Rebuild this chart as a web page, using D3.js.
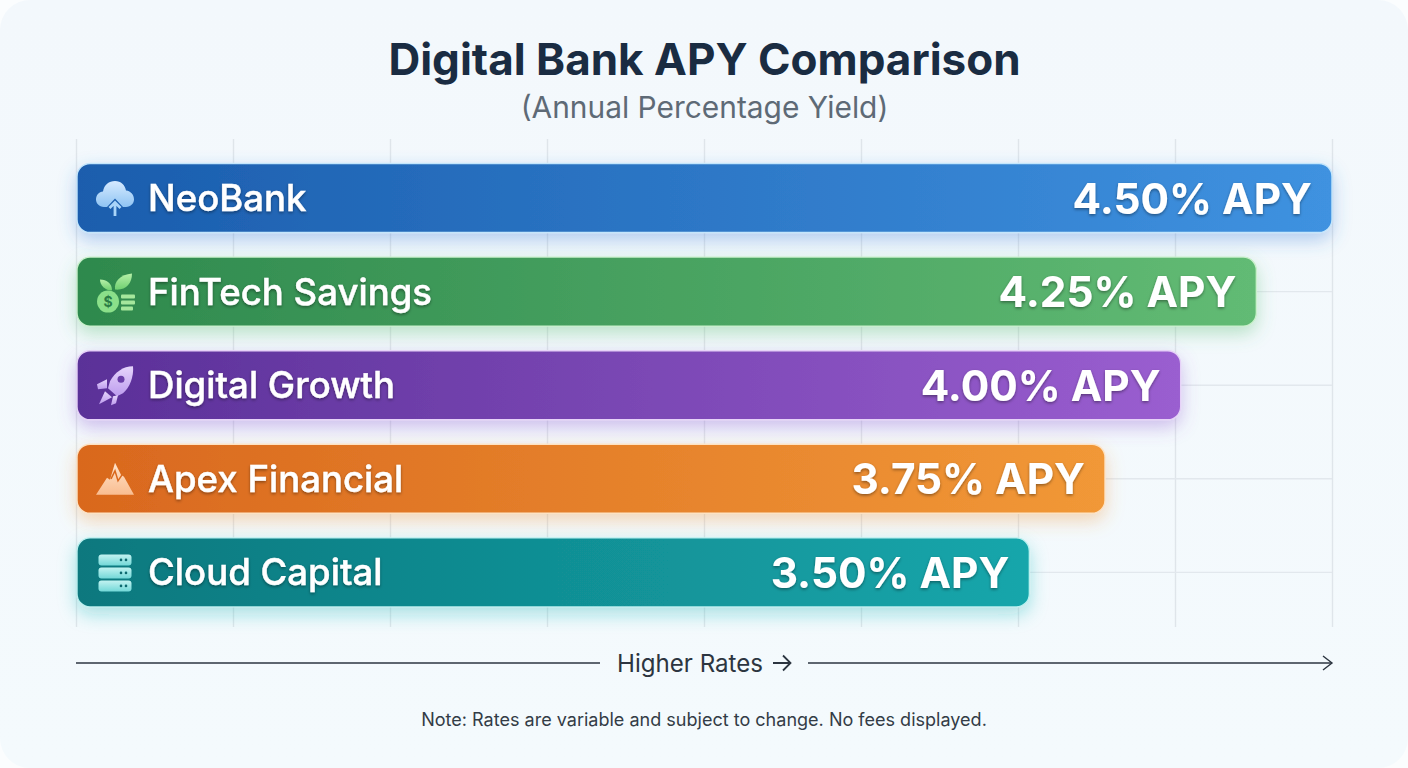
<!DOCTYPE html>
<html><head><meta charset="utf-8">
<script src="https://cdn.jsdelivr.net/npm/d3@7/dist/d3.min.js"></script>
<style>html,body{margin:0;padding:0;background:#fbfdfe;overflow:hidden}svg{display:block}text{font-family:Inter,"Noto Sans",sans-serif}</style>
</head><body><div id="chart"></div>
<script>
const categories=["NeoBank","FinTech Savings","Digital Growth","Apex Financial","Cloud Capital"];
const apyValues=[4.50,4.25,4.00,3.75,3.50];
const startColors=["#1b5dad","#2e894d","#5a3098","#d9681e","#0d787e"];
const endColors=["#3f92e0","#62bb74","#9a5ed0","#f19837","#15a6ab"];
const borderColors=["#c4e6fc","#c8f0cb","#e6d2f8","#fde3c4","#b9f0ef"];
const glowColors=["#3d7fd6","#4fb96a","#8a52cf","#ee963e","#22b5b5"];
const iconColors=[["#d6eaff","#8fc4f3"],["#b6f0a8","#6fd070"],["#e6d5fb","#bd9cee"],["#ffe3cb","#f9bd90"],["#c3f3f1","#73d8d8"]];
const iconNames=["cloud","money","rocket","mountain","server"];
const W=1408,H=768;
const svg=d3.select("#chart").append("svg").attr("width",W).attr("height",H);
const defs=svg.append("defs");
const bgG=defs.append("linearGradient").attr("id","bg").attr("x1",0).attr("y1",0).attr("x2",0).attr("y2",1);
bgG.append("stop").attr("offset",0).attr("stop-color","#f3f8fc");
bgG.append("stop").attr("offset",1).attr("stop-color","#f4fafd");
svg.append("rect").attr("x",0).attr("y",0).attr("width",W).attr("height",H).attr("rx",30).attr("fill","url(#bg)");

const x=d3.scaleLinear().domain([0.35,4.5]).range([76,1332]);
const y=d3.scaleBand().domain(categories).range([163.5,606.9]).paddingInner(0.2628).paddingOuter(0);
const rows=categories.map((c,i)=>({c,v:apyValues[i],i}));

// grid
const [lo,hi]=x.domain();
const gridTicks=d3.range(9).map(i=>lo+i*(hi-lo)/8);
const gx=svg.append("g").attr("transform","translate(0,139)")
  .call(d3.axisBottom(x).tickValues(gridTicks).tickSize(488).tickFormat(""));
gx.select(".domain").remove();
gx.selectAll("line").attr("stroke","#dfe5ea").attr("stroke-width",1.4);
const gy=svg.append("g").attr("transform","translate(76,0)")
  .call(d3.axisRight(y).tickSize(1256).tickFormat(""));
gy.select(".domain").remove();
gy.selectAll("line").attr("stroke","#e2e8ed").attr("stroke-width",1.4);

rows.forEach(d=>{
  const g=defs.append("linearGradient").attr("id","bar"+d.i).attr("gradientUnits","userSpaceOnUse")
    .attr("x1",x.range()[0]).attr("x2",x(d.v)).attr("y1",0).attr("y2",0);
  g.append("stop").attr("offset",0).attr("stop-color",startColors[d.i]);
  g.append("stop").attr("offset",1).attr("stop-color",endColors[d.i]);
  const f=defs.append("filter").attr("id","glow"+d.i).attr("x","-5%").attr("y","-60%").attr("width","110%").attr("height","230%");
  f.append("feDropShadow").attr("dx",0).attr("dy",7).attr("stdDeviation",9).attr("flood-color",glowColors[d.i]).attr("flood-opacity",.36);
  const s=defs.append("linearGradient").attr("id","ico"+d.i).attr("x1",0).attr("y1",0).attr("x2",0).attr("y2",1);
  s.append("stop").attr("offset",0).attr("stop-color",iconColors[d.i][0]);
  s.append("stop").attr("offset",1).attr("stop-color",iconColors[d.i][1]);
});
const ts=defs.append("filter").attr("id","ts").attr("x","-10%").attr("y","-30%").attr("width","120%").attr("height","170%");
ts.append("feDropShadow").attr("dx",0).attr("dy",1.5).attr("stdDeviation",1.4).attr("flood-color","#000").attr("flood-opacity",.4);

const bars=svg.append("g").selectAll("g").data(rows).join("g");
bars.append("rect").attr("x",77).attr("y",d=>y(d.c)).attr("width",d=>x(d.v)-77).attr("height",y.bandwidth())
  .attr("rx",13).attr("fill",d=>`url(#bar${d.i})`).attr("stroke",d=>borderColors[d.i]).attr("stroke-width",1.4)
  .attr("filter",d=>`url(#glow${d.i})`);
bars.append("text").attr("x",148).attr("y",d=>y(d.c)+y.bandwidth()/2+13).attr("font-size",36.6).attr("font-weight",500)
  .attr("fill","#fff").attr("stroke","#fff").attr("stroke-width",.4).attr("filter","url(#ts)").text(d=>d.c);
bars.append("text").attr("x",d=>x(d.v)-20).attr("y",d=>y(d.c)+y.bandwidth()/2+15.5).attr("text-anchor","end")
  .attr("font-size",42.3).attr("font-weight",700).attr("fill","#fff").attr("filter","url(#ts)")
  .text(d=>d3.format(".2f")(d.v)+"% APY");

// icons
const icon={
 cloud(g,f){
  g.append("path").attr("fill",f).attr("d","M-11 9C-16 9-19 5-19 1.500C-19-3-16-6-12-6.500C-11-13-6-17 0-17C6-17 10-13 11-7.500C16-7 19-3 19 1.500C19 5 16 9 11 9L8 9L0 0.500L-8 9Z");
  g.append("path").attr("fill","none").attr("stroke","#a9d4f8").attr("stroke-width",2.8).attr("d","M0 18V4.500M-5.500 10L0 4.500L5.500 10");
 },
 money(g,f){
  g.append("path").attr("fill",f).attr("d","M0 -2C-1 -10 5 -17 17 -18C17 -8 11 -1 0 -2Z");
  g.append("path").attr("fill",f).attr("d","M-3 -1C-10 -1 -15 -6 -15 -12C-8 -12 -3 -8 -3 -1Z");
  g.append("circle").attr("cx",-7).attr("cy",10).attr("r",11).attr("fill","#8be08a");
  g.append("text").attr("x",-7).attr("y",15).attr("text-anchor","middle").attr("font-size",14).attr("font-weight",700).attr("fill","#2a7d45").text("$");
  [3,9,15].forEach(t=>g.append("rect").attr("x",6).attr("y",t).attr("width",t==15?12:14).attr("height",4).attr("rx",1).attr("fill","#a5e79c"));
 },
 rocket(g,f){
  g.append("path").attr("fill",f).attr("d","M18 -19C8 -19 0 -13 -5 -4L-7 3L2 11L8 8C15 2 19 -9 18 -19Z");
  g.append("circle").attr("cx",6).attr("cy",-6).attr("r",3.5).attr("fill","#6a3fa8");
  g.append("path").attr("fill",f).attr("d","M-8 -6L-18 -1L-17 4L-8 3Z");
  g.append("path").attr("fill",f).attr("d","M3 10L1 18L-4 20L-2 11Z");
  g.append("path").attr("fill",f).attr("d","M-10 6L-3 12L-16 19Z");
 },
 mountain(g,f){
  g.append("path").attr("fill",f).attr("d","M-19 16L-8 -1L-5 1L0 -16L6 -4L9 -2L19 16Z");
  g.append("path").attr("fill","none").attr("stroke","#d9681e").attr("stroke-width",1.5).attr("d","M-4 0L0 -8L3 2L7 -4");
 },
 server(g,f){
  [-18,-5,8].forEach(t=>{
   g.append("rect").attr("x",-16.5).attr("y",t).attr("width",33).attr("height",11).attr("rx",3).attr("fill",f);
   [6,11].forEach(c=>g.append("circle").attr("cx",c).attr("cy",t+5.5).attr("r",1.3).attr("fill","#0d6a70"));
  });
 }
};
bars.append("g").attr("transform",d=>`translate(115,${y(d.c)+y.bandwidth()/2})`)
  .each(function(d){icon[iconNames[d.i]](d3.select(this),`url(#ico${d.i})`);});

// titles
svg.append("text").attr("x",704.5).attr("y",75).attr("text-anchor","middle").attr("font-size",44).attr("font-weight",700).attr("fill","#1a2c42").text("Digital Bank APY Comparison");
svg.append("text").attr("x",704.5).attr("y",118).attr("text-anchor","middle").attr("font-size",29.9).attr("fill","#5e6a76").text("(Annual Percentage Yield)");

// direction arrow
const ax=svg.append("g").attr("stroke","#2c3540").attr("stroke-width",1.4).attr("fill","none");
ax.append("line").attr("x1",76).attr("x2",600).attr("y1",663).attr("y2",663);
ax.append("line").attr("x1",808).attr("x2",1332).attr("y1",663).attr("y2",663);
ax.append("path").attr("d","M1323 656L1332 663L1323 670");
svg.append("text").attr("x",617).attr("y",672).attr("font-size",24.1).attr("fill","#2c3540").text("Higher Rates");
svg.append("path").attr("d","M773 663H790M783 655.5L790.5 663L783 670.5").attr("fill","none").attr("stroke","#2c3540").attr("stroke-width",1.8);
svg.append("text").attr("x",704).attr("y",726).attr("text-anchor","middle").attr("font-size",18.05).attr("fill","#333c46").text("Note: Rates are variable and subject to change. No fees displayed.");
</script></body></html>
